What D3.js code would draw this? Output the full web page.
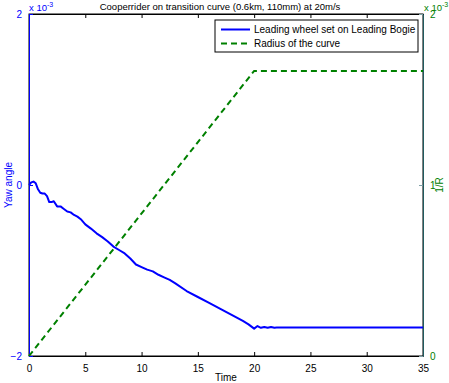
<!DOCTYPE html>
<html>
<head>
<meta charset="utf-8">
<script src="https://cdn.jsdelivr.net/npm/d3@7"></script>
<style>
  body { margin: 0; background: #fff; }
  svg { display: block; font-family: "Liberation Sans", Arial, sans-serif; }
</style>
</head>
<body>
<div id="chart"></div>
<script>
// time (s) and yaw angle (x 1e-3 rad) of the leading wheelset
const yawTime = [0, 0.2, 0.4, 0.6, 0.8, 1.0, 1.2, 1.4, 1.6, 1.8, 2.0, 2.2, 2.5, 2.8, 3.1, 3.4, 3.7, 4.0, 4.3, 4.6,
    5.0, 5.5, 6.0, 6.5, 7.0, 7.5, 8.0, 8.5, 9.0, 9.5, 10.0, 10.5, 11.0, 11.5, 12.0, 12.5, 13.0, 14.0, 15.0, 16.0,
    17.0, 18.0, 19.0, 19.5, 20.0, 20.3, 20.6, 20.9, 21.2, 21.5, 21.8, 22.0, 35];
const yawValue = [0, 0.03, 0.04, 0.02, -0.05, -0.09, -0.10, -0.10, -0.13, -0.20, -0.20, -0.19, -0.25, -0.25, -0.28, -0.31, -0.32, -0.35, -0.37, -0.40,
    -0.46, -0.51, -0.565, -0.61, -0.66, -0.72, -0.76, -0.80, -0.86, -0.93, -0.96, -0.99, -1.01, -1.05, -1.08, -1.11, -1.15, -1.24, -1.31, -1.38,
    -1.45, -1.52, -1.59, -1.63, -1.68, -1.65, -1.67, -1.66, -1.67, -1.66, -1.67, -1.667, -1.667];

// curvature 1/R (x 1e-3 1/m)
const curveTime = [0, 20, 35];
const curveValue = [0, 1.667, 1.667];

const xTicks = [0, 5, 10, 15, 20, 25, 30, 35];
const yawTicks = [-2, 0, 2];
const curveTicks = [0, 1, 2];
const legendLabels = ["Leading wheel set on Leading Bogie", "Radius of the curve"];

const W = 449, H = 383;
const mLeft = 29, mRight = 423, mTop = 14, mBottom = 356;

const svg = d3.select("#chart").append("svg")
    .attr("width", W)
    .attr("height", H);

const x = d3.scaleLinear().domain([0, 35]).range([mLeft, mRight]);
const yL = d3.scaleLinear().domain([-2, 2]).range([mBottom, mTop]);
const yR = d3.scaleLinear().domain([0, 2]).range([mBottom, mTop]);

const blue = "#0000ff", green = "#008000";
const intFmt = d => d3.format("d")(d).replace("-", "\u2212");

// box
svg.append("rect")
    .attr("x", mLeft).attr("y", mTop)
    .attr("width", mRight - mLeft).attr("height", mBottom - mTop)
    .attr("fill", "none").attr("stroke", "#000").attr("stroke-width", 1);

// x axis bottom (ticks inward) and top
svg.append("g")
    .attr("transform", `translate(0,${mBottom})`)
    .call(d3.axisBottom(x).tickValues(xTicks).tickSizeInner(-4).tickSizeOuter(0).tickPadding(9))
    .call(g => g.select(".domain").attr("stroke", "#000"))
    .call(g => g.selectAll("text").attr("font-size", 10).attr("fill", "#000").attr("font-family", null));

svg.append("g")
    .attr("transform", `translate(0,${mTop})`)
    .call(d3.axisTop(x).tickValues(xTicks).tickSizeInner(-4).tickSizeOuter(0).tickFormat(""))
    .call(g => g.select(".domain").attr("stroke", "#000"));

// left axis (blue)
svg.append("g")
    .attr("transform", `translate(${mLeft},0)`)
    .call(d3.axisLeft(yL).tickValues(yawTicks).tickSizeInner(-4).tickSizeOuter(0).tickPadding(7).tickFormat(intFmt))
    .call(g => g.select(".domain").attr("stroke", blue))
    .call(g => g.selectAll("line").attr("stroke", blue))
    .call(g => g.selectAll("text").attr("font-size", 10).attr("fill", blue).attr("font-family", null));

// right axis (green)
svg.append("g")
    .attr("transform", `translate(${mRight},0)`)
    .call(d3.axisRight(yR).tickValues(curveTicks).tickSizeInner(-4).tickSizeOuter(0).tickPadding(7).tickFormat(intFmt))
    .call(g => g.select(".domain").attr("stroke", "#1f5a5e"))
    .call(g => g.selectAll("line").attr("stroke", "#7fa0a6"))
    .call(g => g.selectAll("text").attr("font-size", 10).attr("fill", green).attr("font-family", null));

// exponent labels
function exponent(xp, yp, color) {
    const t = svg.append("text")
        .attr("x", xp).attr("y", yp)
        .attr("font-size", 9.5).attr("fill", color);
    t.append("tspan").text("x 10");
    t.append("tspan").attr("font-size", 7).attr("dy", -4).text("-3");
}
exponent(mLeft, 11, blue);
exponent(mRight + 1, 11, green);

// title and axis labels
svg.append("text")
    .attr("x", (mLeft + mRight) / 2 - 6).attr("y", 10)
    .attr("text-anchor", "middle").attr("font-size", 9.5).attr("fill", "#000")
    .text("Cooperrider on transition curve (0.6km, 110mm) at 20m/s");

svg.append("text")
    .attr("x", (mLeft + mRight) / 2).attr("y", 381)
    .attr("text-anchor", "middle").attr("font-size", 10).attr("fill", "#000")
    .text("Time");

svg.append("text")
    .attr("transform", `translate(12,${yL(0)}) rotate(-90)`)
    .attr("text-anchor", "middle").attr("font-size", 10).attr("fill", blue)
    .text("Yaw angle");

svg.append("text")
    .attr("transform", `translate(443,${yR(1)}) rotate(-90)`)
    .attr("text-anchor", "middle").attr("font-size", 10).attr("fill", green)
    .text("1/R");

// data lines
const yawLine = d3.line()
    .x((d, i) => x(yawTime[i]))
    .y(d => yL(d));
const curveLine = d3.line()
    .x((d, i) => x(curveTime[i]))
    .y(d => yR(d));

svg.append("path")
    .attr("d", curveLine(curveValue))
    .attr("fill", "none").attr("stroke", green)
    .attr("stroke-width", 2).attr("stroke-dasharray", "6,4");

svg.append("path")
    .attr("d", yawLine(yawValue))
    .attr("fill", "none").attr("stroke", blue)
    .attr("stroke-width", 2).attr("stroke-linejoin", "round");

// legend
const lg = svg.append("g").attr("transform", "translate(215,20)");
lg.append("rect")
    .attr("width", 203).attr("height", 32)
    .attr("fill", "#fff").attr("stroke", "#000").attr("stroke-width", 1);

const legendStyle = [
    { color: blue, dash: null },
    { color: green, dash: "6,4" }
];
legendLabels.forEach((label, i) => {
    const yy = 9.5 + i * 14;
    lg.append("line")
        .attr("x1", 6).attr("x2", 35).attr("y1", yy).attr("y2", yy)
        .attr("stroke", legendStyle[i].color).attr("stroke-width", 2)
        .attr("stroke-dasharray", legendStyle[i].dash);
    lg.append("text")
        .attr("x", 39).attr("y", yy + 3.5)
        .attr("font-size", 10).attr("fill", "#000")
        .text(label);
});
</script>
</body>
</html>
